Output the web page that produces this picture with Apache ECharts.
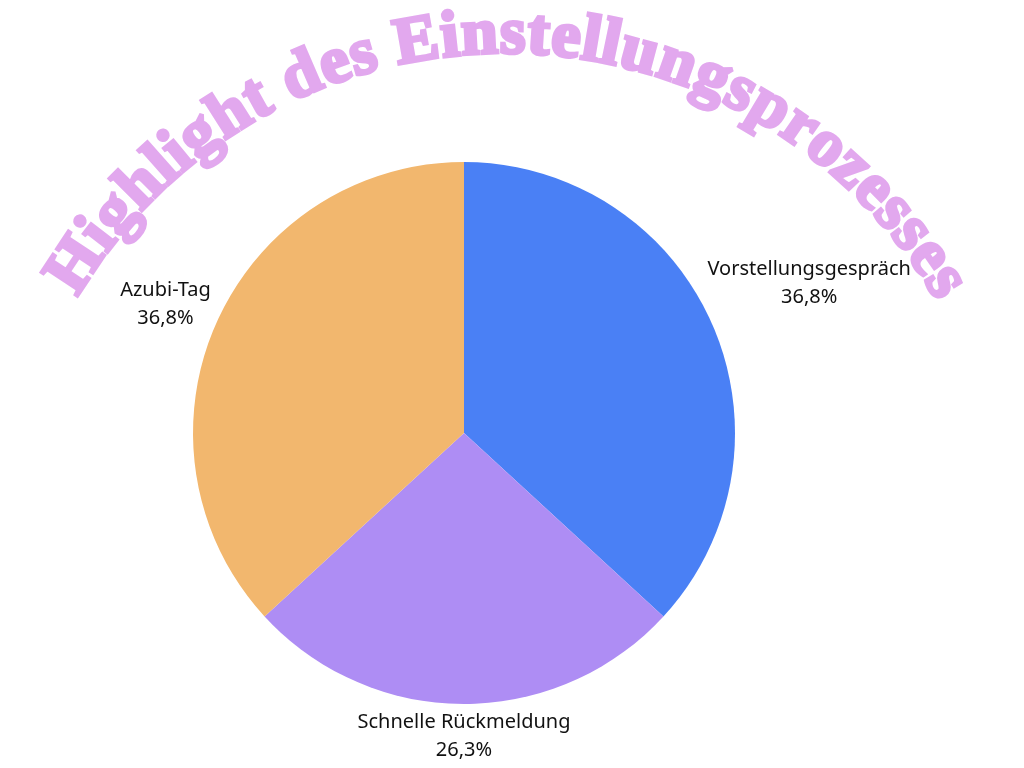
<!DOCTYPE html>
<html><head><meta charset="utf-8">
<script src="https://cdn.jsdelivr.net/npm/echarts@6/dist/echarts.min.js"></script>
<style>html,body{margin:0;padding:0;background:#fff}#c{width:1024px;height:768px}</style>
</head><body><div id="c"></div>
<script>
const titleText = 'Highlight des Einstellungsprozesses';
const categories = ['Vorstellungsgespräch', 'Schnelle Rückmeldung', 'Azubi-Tag'];
const values = [36.8, 26.3, 36.8];
const colors = ['#4A80F5', '#AE8DF4', '#F2B76E'];

const PIE_C = [464, 433], PIE_R = 271;
const TITLE_COLOR = '#E2A8EE';
const TITLE_FONT_SIZE = 66;
const TITLE_FAMILY = '"Liberation Serif", serif';
const ARC_C = [506, 551], ARC_R = 494;
const ARC_START = 149.5 * Math.PI / 180, ARC_END = 30 * Math.PI / 180;

function titleGraphics() {
  const ctx = document.createElement('canvas').getContext('2d');
  ctx.font = 'bold ' + TITLE_FONT_SIZE + 'px ' + TITLE_FAMILY;
  const total = ctx.measureText(titleText).width;
  const arcLen = (ARC_START - ARC_END) * ARC_R;
  const k = arcLen / total;
  const out = [];
  const rMid = ARC_R + TITLE_FONT_SIZE * 0.32;
  for (let i = 0; i < titleText.length; i++) {
    const ch = titleText[i];
    if (ch === ' ') continue;
    const pre = ctx.measureText(titleText.slice(0, i)).width;
    const w = ctx.measureText(ch).width;
    const s = (pre + w / 2) * k;
    const phi = ARC_START - s / ARC_R;
    out.push({
      type: 'text',
      x: ARC_C[0] + rMid * Math.cos(phi),
      y: ARC_C[1] - rMid * Math.sin(phi),
      rotation: phi - Math.PI / 2,
      style: {
        text: ch,
        fill: TITLE_COLOR,
        stroke: TITLE_COLOR,
        lineWidth: 3.5,
        lineJoin: 'round',
        fontSize: TITLE_FONT_SIZE,
        fontWeight: 'bold',
        fontFamily: TITLE_FAMILY,
        align: 'center',
        verticalAlign: 'middle'
      }
    });
  }
  return out;
}

const chart = echarts.init(document.getElementById('c'));
const sum = values.reduce((a, b) => a + b, 0);

chart.setOption({
  animation: false,
  graphic: titleGraphics(),
  series: [{
    type: 'pie',
    center: PIE_C,
    radius: PIE_R,
    startAngle: 90,
    clockwise: true,
    data: categories.map((c, i) => ({ name: c, value: values[i], itemStyle: { color: colors[i] } })),
    label: {
      show: true,
      position: 'outside',
      formatter: p => p.name + '\n' + p.value.toFixed(1).replace('.', ',') + '%',
      fontFamily: '"Noto Sans", sans-serif',
      fontSize: 20,
      lineHeight: 28,
      color: '#111',
      align: 'center'
    },
    labelLine: { show: false },
    emphasis: { disabled: true },
    labelLayout: function (p) {
      const i = p.dataIndex;
      let before = 0;
      for (let j = 0; j < i; j++) before += values[j];
      const mid = Math.PI / 2 - 2 * Math.PI * (before + values[i] / 2) / sum;
      const dx = Math.cos(mid), dy = -Math.sin(mid);
      const w = p.labelRect.width, h = p.labelRect.height;
      let t = 0, bx = PIE_C[0], by = PIE_C[1];
      for (t = 0; t < 600; t += 0.5) {
        bx = PIE_C[0] + dx * t; by = PIE_C[1] + dy * t;
        const nx = Math.max(bx - w / 2, Math.min(PIE_C[0], bx + w / 2));
        const ny = Math.max(by - h / 2, Math.min(PIE_C[1], by + h / 2));
        if (Math.hypot(nx - PIE_C[0], ny - PIE_C[1]) >= PIE_R + 2) break;
      }
      return { x: bx, y: by + 2, align: 'center', verticalAlign: 'middle' };
    }
  }]
});
</script></body></html>
